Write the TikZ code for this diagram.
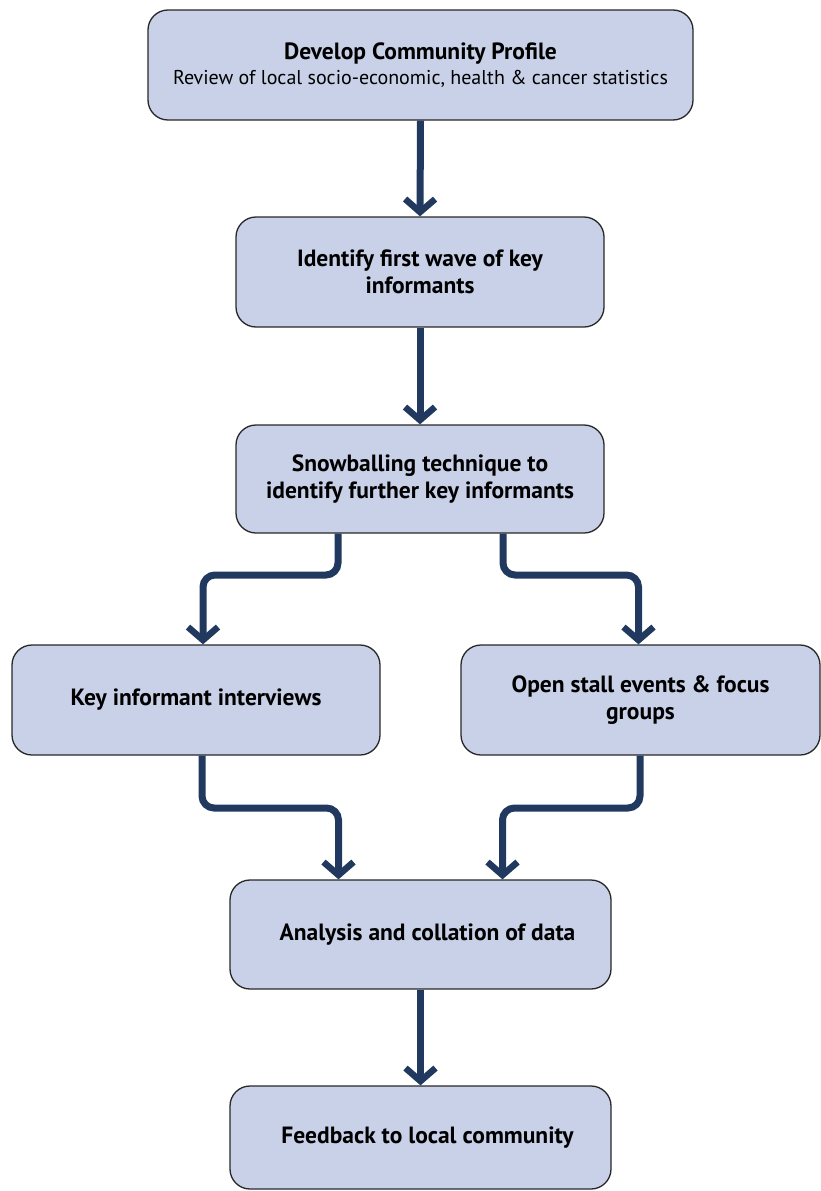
\documentclass[tikz,border=0pt]{standalone}
\usepackage{fontspec}
\setmainfont{PT Sans}
\usetikzlibrary{arrows.meta}
\definecolor{boxfill}{RGB}{201,209,232}
\definecolor{boxline}{RGB}{40,40,40}
\definecolor{arrowc}{RGB}{33,57,94}
\tikzset{
  stepbox/.style={draw=boxline, line width=1.3pt, fill=boxfill, rounded corners=20pt,
    align=center, font=\bfseries\fontsize{23.5}{27}\selectfont, inner sep=0pt},
  conn/.style={draw=arrowc, line width=7pt, rounded corners=12pt,
    -{Straight Barb[length=13pt,width=30pt,line width=6.5pt]}},
}
\begin{document}
\begin{tikzpicture}[x=1pt,y=-1pt]
\useasboundingbox (0,0) rectangle (821,1191);
\node[stepbox, minimum width=545pt, minimum height=110pt] (A) at (420.5,65)
  {Develop Community Profile\\[-2pt]{\mdseries\fontsize{20}{22}\selectfont Review of local socio-economic, health \& cancer statistics}};
\node[stepbox, minimum width=368pt, minimum height=110pt] (B) at (420,272)
  {Identify first wave of key\\informants};
\node[stepbox, minimum width=368pt, minimum height=108pt] (C) at (420,479)
  {Snowballing technique to\\identify further key informants};
\node[stepbox, minimum width=368pt, minimum height=110pt] (D) at (196,700)
  {Key informant interviews};
\node[stepbox, minimum width=359pt, minimum height=110pt] (E) at (640.5,700)
  {Open stall events \& focus\\groups};
\node[stepbox, minimum width=381pt, minimum height=109pt] (F) at (420.5,934.5)
  {\hspace*{14pt}Analysis and collation of data};
\node[stepbox, minimum width=381pt, minimum height=103pt] (G) at (420.5,1137.5)
  {\hspace*{14pt}Feedback to local community};
\coordinate (c1) at (338,575);
\coordinate (c2) at (503,575);
\coordinate (c3) at (202,808);
\coordinate (c4) at (640,808);
\draw[conn] (A.south) -- (B.north);
\draw[conn] (B.south) -- (C.north);
\draw[conn] (C.south -| c1) -- (c1) -| ([xshift=7pt]D.north);
\draw[conn] (C.south -| c2) -- (c2) -| ([xshift=-2pt]E.north);
\draw[conn] (D.south -| c3) -- (c3) -| ([xshift=-82pt]F.north);
\draw[conn] (E.south -| c4) -- (c4) -| ([xshift=82pt]F.north);
\draw[conn] (F.south) -- (G.north);
\end{tikzpicture}
\end{document}
